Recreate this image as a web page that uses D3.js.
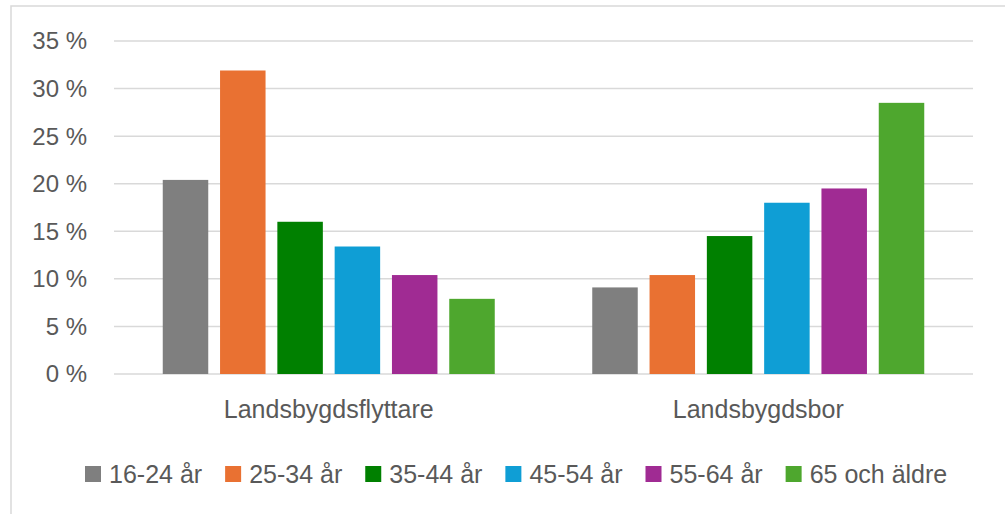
<!DOCTYPE html>
<html>
<head>
<meta charset="utf-8">
<script src="https://cdn.jsdelivr.net/npm/d3@7"></script>
<style>
  html, body { margin: 0; padding: 0; background: #fff; }
  svg { display: block; }
  text { font-family: "Liberation Sans", Arial, sans-serif; fill: #595959; }
</style>
</head>
<body>
<svg id="chart" width="1005" height="514"></svg>
<script>
const groups = ["Landsbygdsflyttare", "Landsbygdsbor"];
const series = ["16-24 år", "25-34 år", "35-44 år", "45-54 år", "55-64 år", "65 och äldre"];
const colors = ["#7F7F7F", "#E97132", "#008000", "#0F9ED5", "#A02B93", "#4EA72E"];
const landsbygdsflyttare = [20.4, 31.9, 16.0, 13.4, 10.4, 7.9];
const landsbygdsbor = [9.1, 10.4, 14.5, 18.0, 19.5, 28.5];
const yTicks = [0, 5, 10, 15, 20, 25, 30, 35];

(function () {
const values = [landsbygdsflyttare, landsbygdsbor];
const svg = d3.select("#chart");

// border
svg.append("rect").attr("x", 11).attr("y", 6).attr("width", 1010).attr("height", 520)
  .attr("fill", "none").attr("stroke", "#d9d9d9").attr("stroke-width", 1.5);

const pLeft = 114, pRight = 973, pTop = 41, pBottom = 374;
const y = d3.scaleLinear().domain([0, 35]).range([pBottom, pTop]);
const x0 = d3.scaleBand().domain(groups).range([pLeft, pRight]).padding(0);
const inset = (x0.bandwidth() - 332) / 2;
const x1 = d3.scaleBand().domain(series).range([inset, x0.bandwidth() - inset]).paddingInner(0.206).paddingOuter(0);

// gridlines
svg.append("g").selectAll("line").data(yTicks).join("line")
  .attr("x1", pLeft).attr("x2", pRight)
  .attr("y1", d => y(d)).attr("y2", d => y(d))
  .attr("stroke", "#d9d9d9").attr("stroke-width", 1.5);

// y labels
svg.append("g").selectAll("text").data(yTicks).join("text")
  .attr("x", 87).attr("y", d => y(d)).attr("dy", "0.35em")
  .attr("text-anchor", "end").attr("font-size", 24)
  .text(d => d + " %");

// bars
const g = svg.append("g").selectAll("g").data(groups).join("g")
  .attr("transform", d => `translate(${x0(d)},0)`);
g.selectAll("rect").data((d, i) => values[i].map((v, j) => ({ s: series[j], v, c: colors[j] })))
  .join("rect")
  .attr("x", d => x1(d.s)).attr("width", x1.bandwidth())
  .attr("y", d => y(d.v)).attr("height", d => y(0) - y(d.v))
  .attr("fill", d => d.c);

// x labels
svg.append("g").selectAll("text").data(groups).join("text")
  .attr("x", d => x0(d) + x0.bandwidth() / 2).attr("y", 418)
  .attr("text-anchor", "middle").attr("font-size", 25)
  .text(d => d);

// legend
const leg = svg.append("g");
const items = leg.selectAll("g").data(series).join("g");
items.append("rect").attr("width", 16).attr("height", 16).attr("y", -8)
  .attr("fill", (d, i) => colors[i]);
items.append("text").attr("x", 24).attr("dy", "0.35em").attr("font-size", 25).text(d => d);
let pos = 85;
const xs = [];
items.each(function () {
  const w = d3.select(this).select("text").node().getComputedTextLength();
  xs.push(pos);
  pos += 24 + w + 23;
});
items.attr("transform", (d, i) => `translate(${xs[i]},474)`);
})();
</script>
</body>
</html>
